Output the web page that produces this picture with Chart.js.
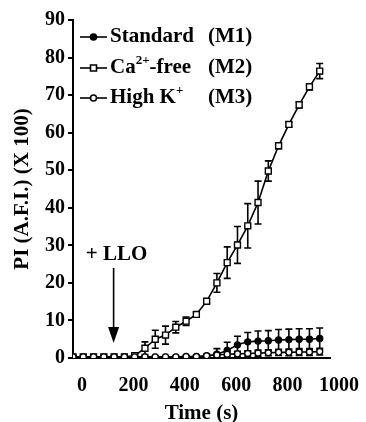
<!DOCTYPE html>
<html>
<head>
<meta charset="utf-8">
<script src="https://cdn.jsdelivr.net/npm/chart.js@4.4.0/dist/chart.umd.min.js"></script>
<style>
  html, body { margin: 0; padding: 0; background: #fff; }
</style>
</head>
<body>
<canvas id="chart" width="366" height="422"></canvas>
<script>
// Time points (s)
const time = [0, 40, 80, 120, 160, 200, 240, 280, 320, 360, 400, 440, 480,
              520, 560, 600, 640, 680, 720, 760, 800, 840, 880, 920, 960];

// Standard (M1)
const standard    = [0.2, 0.2, 0.2, 0.2, 0.2, 0.2, 0.2, 0.2, 0.2, 0.2, 0.2, 0.3, 0.3,
                     0.5, 1.0, 2.0, 3.5, 4.3, 4.5, 4.6, 4.8, 4.9, 5.0, 5.0, 5.2];
const standardErr = [0, 0, 0, 0, 0, 0, 0, 0, 0, 0, 0, 0, 0.3,
                     0.5, 1.5, 2.2, 2.3, 2.5, 2.7, 2.7, 2.8, 2.8, 2.8, 2.8, 2.8];

// Ca2+-free (M2)
const caFree    = [0.3, 0.3, 0.3, 0.3, 0.3, 0.3, 0.6, 2.6, 5.0, 6.1, 8.2, 9.8, 11.6,
                   15.1, 20.0, 25.4, 30.1, 35.2, 41.4, 49.8, 56.5, 62.2, 67.4, 72.2, 76.4];
const caFreeErr = [0, 0, 0, 0, 0, 0, 0.3, 1.7, 2.4, 2.4, 1.5, 1.1, 0.6,
                   0.5, 2.5, 4.2, 4.9, 5.9, 5.7, 2.7, 0.8, 0.6, 0.8, 0.8, 2.0];

// High K+ (M3)
const highK    = [0.3, 0.3, 0.3, 0.3, 0.3, 0.3, 0.3, 0.3, 0.3, 0.3, 0.3, 0.4, 0.4,
                  0.6, 0.8, 1.0, 1.1, 1.2, 1.3, 1.4, 1.5, 1.5, 1.6, 1.6, 1.7];
const highKErr = [0, 0, 0, 0, 0, 0, 0, 0, 0, 0, 0, 0, 0.3,
                  0.4, 0.5, 0.6, 0.7, 0.7, 0.8, 0.8, 0.8, 0.9, 0.9, 0.9, 0.9];

const xTicks = [0, 200, 400, 600, 800, 1000];
const yTicks = [0, 10, 20, 30, 40, 50, 60, 70, 80, 90];

// LLO addition marker
const lloTime = 158;

const FONT = '"Liberation Serif", "Times New Roman", serif';

function toPoints(ys) {
    return ys.map((y, i) => ({ x: time[i], y: y }));
}

const errSets = [standardErr, caFreeErr, highKErr];

// error bars, drawn under the markers
const errorBars = {
    id: 'errorBars',
    beforeDatasetsDraw(chart) {
        const ctx = chart.ctx;
        const yScale = chart.scales.y;
        const area = chart.chartArea;
        ctx.save();
        ctx.beginPath();
        ctx.rect(area.left - 10, area.top - 10, area.right - area.left + 20, area.bottom - area.top + 10);
        ctx.clip();
        ctx.strokeStyle = '#000';
        ctx.lineWidth = 1.6;
        chart.data.datasets.forEach((ds, i) => {
            const meta = chart.getDatasetMeta(i);
            const errs = errSets[i];
            meta.data.forEach((pt, j) => {
                const e = errs[j];
                if (!e) return;
                const v = ds.data[j].y;
                const yt = yScale.getPixelForValue(v + e);
                const yb = yScale.getPixelForValue(v - e);
                ctx.beginPath();
                ctx.moveTo(pt.x, yt); ctx.lineTo(pt.x, yb);
                ctx.moveTo(pt.x - 3.5, yt); ctx.lineTo(pt.x + 3.5, yt);
                ctx.moveTo(pt.x - 3.5, yb); ctx.lineTo(pt.x + 3.5, yb);
                ctx.stroke();
            });
        });
        ctx.restore();
    }
};

// legend and "+ LLO" arrow
const overlay = {
    id: 'overlay',
    afterDraw(chart) {
        const ctx = chart.ctx;
        const xs = chart.scales.x, ys = chart.scales.y;
        ctx.save();
        ctx.fillStyle = '#000';
        ctx.strokeStyle = '#000';
        ctx.textBaseline = 'middle';
        ctx.textAlign = 'left';

        // legend rows
        const rows = [
            { y: 37, style: 'filled', parts: [['Standard', 0]] },
            { y: 68, style: 'square', parts: [['Ca', 0], ['2+', 1], ['-free', 0]] },
            { y: 98, style: 'open', parts: [['High K', 0], ['+', 1]] }
        ];
        const tags = ['(M1)', '(M2)', '(M3)'];
        rows.forEach((r, k) => {
            ctx.lineWidth = 1.6;
            ctx.beginPath();
            ctx.moveTo(80, r.y); ctx.lineTo(107, r.y);
            ctx.stroke();
            ctx.beginPath();
            if (r.style === 'square') {
                ctx.rect(90.5, r.y - 3, 6, 6);
                ctx.fillStyle = '#fff'; ctx.fill();
            } else {
                ctx.arc(93.5, r.y, 3, 0, Math.PI * 2);
                ctx.fillStyle = r.style === 'filled' ? '#000' : '#fff';
                ctx.fill();
            }
            ctx.stroke();
            ctx.fillStyle = '#000';
            let x = 110;
            r.parts.forEach(([txt, sup]) => {
                if (sup) {
                    ctx.font = 'bold 13px ' + FONT;
                    ctx.fillText(txt, x, r.y - 7);
                } else {
                    ctx.font = 'bold 21px ' + FONT;
                    ctx.fillText(txt, x, r.y);
                }
                x += ctx.measureText(txt).width;
            });
            ctx.font = 'bold 21px ' + FONT;
            ctx.fillText(tags[k], 208, r.y);
        });

        // + LLO arrow
        const ax = xs.getPixelForValue(lloTime);
        const yStart = ys.getPixelForValue(24);
        const yTip = ys.getPixelForValue(4);
        ctx.lineWidth = 1.6;
        ctx.beginPath();
        ctx.moveTo(ax, yStart); ctx.lineTo(ax, yTip - 14);
        ctx.stroke();
        ctx.beginPath();
        ctx.moveTo(ax - 5.5, yTip - 16); ctx.lineTo(ax + 5.5, yTip - 16); ctx.lineTo(ax, yTip);
        ctx.closePath();
        ctx.fill();
        ctx.font = 'bold 21px ' + FONT;
        ctx.textAlign = 'center';
        ctx.fillText('+ LLO', ax + 3, ys.getPixelForValue(27.5));
        ctx.restore();
    }
};

new Chart(document.getElementById('chart'), {
    type: 'line',
    data: {
        datasets: [
            {
                label: 'Standard (M1)',
                data: toPoints(standard),
                borderColor: '#000', borderWidth: 1.6,
                pointStyle: 'circle', pointRadius: 3,
                pointBackgroundColor: '#000', pointBorderColor: '#000', pointBorderWidth: 1.4,
                order: 2
            },
            {
                label: 'Ca2+-free (M2)',
                data: toPoints(caFree),
                borderColor: '#000', borderWidth: 1.6,
                pointStyle: 'rect', pointRadius: 4.2,
                pointBackgroundColor: '#fff', pointBorderColor: '#000', pointBorderWidth: 1.4,
                order: 1
            },
            {
                label: 'High K+ (M3)',
                data: toPoints(highK),
                borderColor: '#000', borderWidth: 1.6,
                pointStyle: 'circle', pointRadius: 3,
                pointBackgroundColor: '#fff', pointBorderColor: '#000', pointBorderWidth: 1.4,
                order: 0
            }
        ]
    },
    options: {
        responsive: false,
        animation: false,
        layout: { padding: { top: 20, right: 33, left: 0, bottom: 0 } },
        plugins: {
            legend: { display: false },
            tooltip: { enabled: false }
        },
        scales: {
            x: {
                type: 'linear',
                min: 0, max: 1000,
                afterBuildTicks: s => { s.ticks = xTicks.map(v => ({ value: v })); },
                afterFit: s => { s.height = 64; },
                grid: { display: false, drawTicks: false },
                border: { color: '#000', width: 2 },
                ticks: {
                    color: '#000', padding: 16, labelOffset: 9, maxRotation: 0,
                    callback: v => String(v),
                    font: { family: FONT, size: 20, weight: 'bold' }
                },
                title: {
                    display: true, text: 'Time (s)', color: '#000',
                    padding: { top: 0, bottom: -4 },
                    font: { family: FONT, size: 21, weight: 'bold' }
                }
            },
            y: {
                min: 0, max: 90,
                afterBuildTicks: s => { s.ticks = yTicks.map(v => ({ value: v })); },
                afterFit: s => { s.width = 73; },
                grid: { drawOnChartArea: false, drawTicks: true, tickLength: 5, color: '#000', lineWidth: 2 },
                border: { color: '#000', width: 2 },
                ticks: {
                    color: '#000', padding: 3,
                    font: { family: FONT, size: 20, weight: 'bold' }
                },
                title: {
                    display: true, text: 'PI (A.F.I.) (X 100)', color: '#000',
                    padding: { top: 10, bottom: 0 },
                    font: { family: FONT, size: 21, weight: 'bold' }
                }
            }
        }
    },
    plugins: [errorBars, overlay]
});
</script>
</body>
</html>
